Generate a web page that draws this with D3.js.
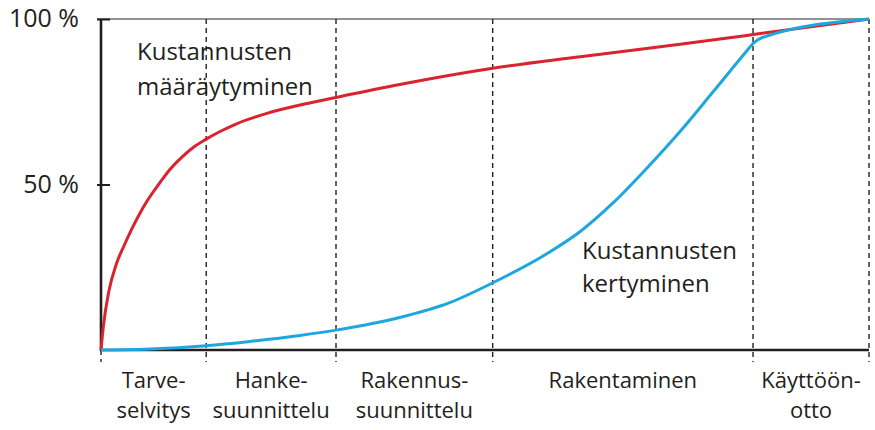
<!DOCTYPE html>
<html>
<head>
<meta charset="utf-8">
<script src="https://cdn.jsdelivr.net/npm/d3@7"></script>
<style>
  body { margin: 0; background: #fff; }
  text { font-family: "Open Sans", sans-serif; fill: #231f20; }
</style>
</head>
<body>
<svg id="chart" width="875" height="430"></svg>
<script>
// project progress (0-100) where each phase ends
const phaseEdges = [0, 13.7, 30.6, 51.0, 84.9, 100];
const phaseLabels = [
    ["Tarve-", "selvitys"],
    ["Hanke-", "suunnittelu"],
    ["Rakennus-", "suunnittelu"],
    ["Rakentaminen"],
    ["Käyttöön-", "otto"]
];

// Kustannusten määräytyminen (red)
const determinedX = [0, 0.3, 1.0, 2.0, 3.0, 4.0, 5.0, 6.0, 7.5, 9.0, 10.5, 12.0, 13.7, 15.5, 17.5, 21.6, 25.9, 30.6, 38.9, 51.0, 62.4, 75.4, 84.9, 100];
const determinedY = [0, 7.0, 17.5, 26.0, 31.5, 36.5, 41.0, 45.0, 50.0, 54.6, 58.2, 61.2, 63.7, 66.0, 68.2, 71.5, 74.0, 76.3, 80.2, 85.1, 88.6, 92.4, 95.3, 100];

// Kustannusten kertyminen (blue)
const accruedX = [0, 6.4, 13.7, 19.4, 25.9, 30.6, 38.9, 45.4, 51.1, 58.0, 62.4, 66.7, 71.1, 75.4, 79.7, 84.1, 84.9, 86.1, 100];
const accruedY = [0, 0.3, 1.3, 2.6, 4.4, 6.0, 9.8, 14.3, 20.4, 29.0, 35.8, 44.5, 55.0, 66.0, 78.0, 90.4, 92.6, 94.4, 100];

const yTicks = [50, 100];

const svg = d3.select("#chart");

const x = d3.scaleLinear().domain([0, 100]).range([101, 869]);
const y = d3.scaleLinear().domain([0, 100]).range([350, 19]);

const line = d3.line()
    .x(d => x(d[0]))
    .y(d => y(d[1]))
    .curve(d3.curveMonotoneX);

// gray top line at 100 %
svg.append("line")
    .attr("x1", x(0) - 4).attr("x2", x(100))
    .attr("y1", y(100)).attr("y2", y(100))
    .attr("stroke", "#6d6d6d")
    .attr("stroke-width", 1.6);

// dashed phase boundaries
svg.append("g")
    .selectAll("line")
    .data(phaseEdges)
    .join("line")
    .attr("x1", d => x(d)).attr("x2", d => x(d))
    .attr("y1", d => d === 0 ? y(0) : y(100))
    .attr("y2", y(0) + 12)
    .attr("stroke", "#231f20")
    .attr("stroke-width", 1.4)
    .attr("stroke-dasharray", "5,4");

// y axis, ticks cross the axis line
const yAxis = svg.append("g")
    .attr("transform", `translate(${x(0)},0)`)
    .call(d3.axisLeft(y).tickValues(yTicks).tickSize(0).tickPadding(22)
        .tickFormat(d => d + " %"));
yAxis.select(".domain").remove();
yAxis.selectAll("text")
    .attr("font-size", 25)
    .attr("font-family", "Open Sans, sans-serif")
    .attr("fill", "#231f20")
    .attr("dy", "0.3em");
yAxis.selectAll(".tick line")
    .attr("x1", -4).attr("x2", 9)
    .attr("stroke", "#231f20")
    .attr("stroke-width", 2);

svg.append("line")
    .attr("x1", x(0)).attr("x2", x(0))
    .attr("y1", y(100)).attr("y2", y(0) + 1)
    .attr("stroke", "#231f20")
    .attr("stroke-width", 2.6);

// x axis
svg.append("line")
    .attr("x1", x(0) - 1).attr("x2", x(100))
    .attr("y1", y(0)).attr("y2", y(0))
    .attr("stroke", "#231f20")
    .attr("stroke-width", 2.6);

// phase labels, one text per line
const labelLines = phaseLabels.flatMap((lines, i) =>
    lines.map((s, j) => ({text: s, mid: (phaseEdges[i] + phaseEdges[i + 1]) / 2, row: j})));

svg.append("g")
    .selectAll("text")
    .data(labelLines)
    .join("text")
    .attr("text-anchor", "middle")
    .attr("font-size", 22)
    .attr("x", d => x(d.mid))
    .attr("y", d => 388 + d.row * 30)
    .text(d => d.text);

// curves
svg.append("path")
    .datum(d3.zip(determinedX, determinedY))
    .attr("fill", "none")
    .attr("stroke", "#d9232e")
    .attr("stroke-width", 3)
    .attr("d", line);

svg.append("path")
    .datum(d3.zip(accruedX, accruedY))
    .attr("fill", "none")
    .attr("stroke", "#1ea7de")
    .attr("stroke-width", 3)
    .attr("stroke-linejoin", "round")
    .attr("d", line);

// curve annotations
function note(lines, px, py, gap) {
    svg.append("g")
        .selectAll("text")
        .data(lines)
        .join("text")
        .attr("font-size", 24)
        .attr("x", px)
        .attr("y", (d, i) => py + i * gap)
        .text(d => d);
}
note(["Kustannusten", "määräytyminen"], 137, 60, 35);
note(["Kustannusten", "kertyminen"], 582, 259, 33);
</script>
</body>
</html>
